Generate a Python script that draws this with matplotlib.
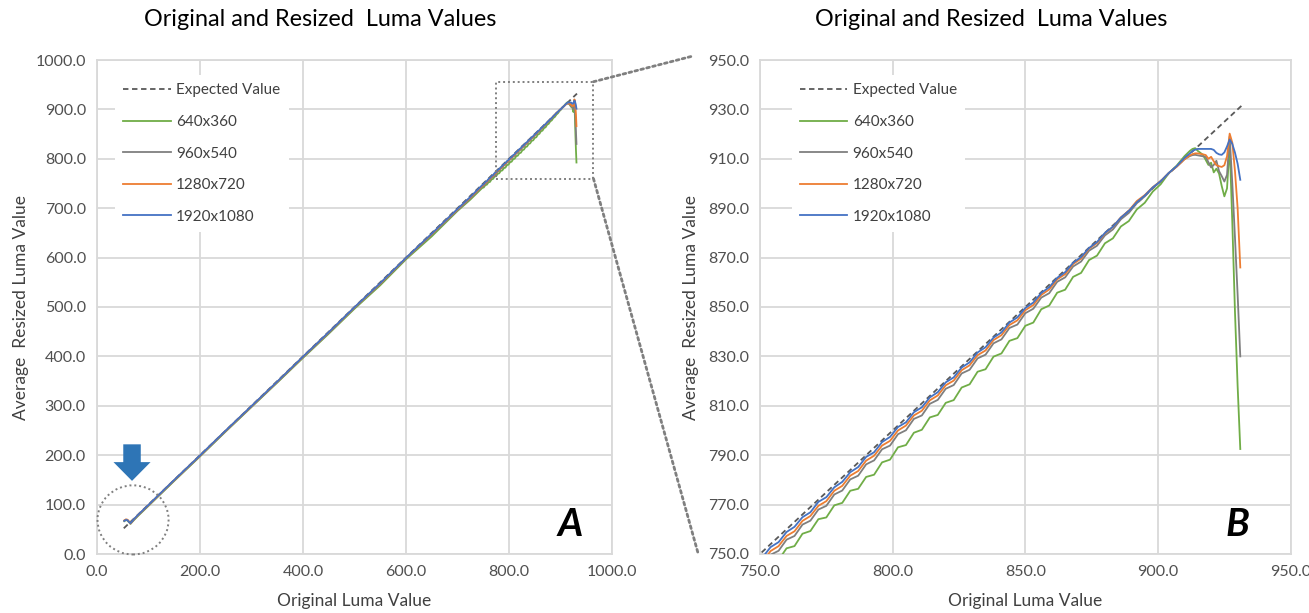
import matplotlib
matplotlib.use("Agg")
import matplotlib.pyplot as plt
import matplotlib.patches as mpatches
from matplotlib.patches import ConnectionPatch
from matplotlib.ticker import FormatStrFormatter

plt.rcParams['font.family'] = ['Lato', 'DejaVu Sans']

# Original luma values (shared x for all resized series)
luma_x = [53, 56, 59, 62, 65, 68, 72, 80, 100, 150, 200, 250, 300, 350, 400, 450, 500, 550, 600, 650, 700, 725,
          748, 751, 754, 757, 760, 763, 766, 769, 772, 775, 778, 781, 784, 787, 790, 793, 796, 799,
          802, 805, 808, 811, 814, 817, 820, 823, 826, 829, 832, 835, 838, 841, 844, 847, 850,
          853, 856, 859, 862, 865, 868, 871, 874, 877, 880, 883, 886, 889, 892, 895, 898, 901, 904, 907, 910,
          912, 913, 914, 915, 916, 917, 918, 919, 920, 921, 922, 923, 924, 925, 926, 927, 928, 929, 930, 931]

res_640 = [66.5, 68.5, 68.0, 64.5, 61.0, 64.5, 69.0, 77.5, 97.5, 148.0, 197.5, 248.0, 297.5, 347.0, 397.0, 446.0,
           496.5, 544.0, 596.5, 643.0, 694.5, 717.5,
           741.0, 742.0, 746.8, 747.6, 752.3, 753.2, 758.2, 759.3, 764.1, 764.8, 769.7, 770.7, 775.6, 776.4,
           781.2, 782.1, 787.1, 788.2, 793.2, 794.1, 799.1, 800.3, 805.3, 806.3, 811.2, 812.3, 817.4, 818.7,
           823.8, 824.8, 829.9, 831.2, 836.3, 837.4, 842.4, 843.7, 849.1, 850.6, 855.8, 857.0, 862.2, 863.8,
           869.0, 870.8, 875.8, 877.8, 882.6, 884.8, 889.5, 892.2, 896.7, 899.7, 904.1, 907.2, 911.1,
           913.2, 914.0, 914.3, 913.2, 912.4, 911.5, 909.5, 907.5, 908.4, 904.5, 906.0, 904.0, 899.0, 894.8,
           898.0, 915.5, 884.0, 848.0, 818.0, 792.5]

res_960 = [67.5, 69.5, 69.0, 65.5, 61.5, 65.0, 70.0, 78.5, 98.5, 149.0, 198.5, 249.0, 298.5, 348.0, 398.5, 447.5,
           498.5, 546.5, 598.5, 646.5, 696.0, 720.0,
           743.6, 745.0, 749.7, 751.3, 755.8, 757.3, 761.9, 763.5, 768.0, 769.5, 774.1, 775.7, 780.2, 781.7,
           786.3, 787.9, 792.4, 793.9, 798.5, 800.1, 804.7, 806.1, 810.8, 812.4, 816.9, 818.4, 823.1, 824.6,
           829.2, 830.7, 835.3, 836.9, 841.5, 842.9, 847.5, 849.3, 853.8, 855.6, 860.2, 862.0, 866.4, 868.4,
           872.8, 874.8, 879.0, 881.4, 885.5, 888.1, 892.0, 894.8, 898.2, 900.8, 904.2, 906.8, 909.9,
           911.1, 911.5, 911.6, 911.4, 911.2, 911.0, 910.7, 908.6, 906.5, 907.5, 909.2, 905.0, 903.0, 900.8,
           903.5, 919.0, 900.0, 878.0, 855.0, 830.0]

res_1280 = [68.0, 70.0, 69.5, 66.0, 62.0, 65.5, 70.5, 79.0, 99.0, 149.5, 199.0, 249.5, 299.0, 348.5, 399.0, 448.5,
            499.0, 547.5, 599.0, 647.5, 697.5, 721.5,
            745.1, 747.0, 751.2, 753.2, 757.3, 759.2, 763.4, 765.4, 769.5, 771.4, 775.6, 777.6, 781.7, 783.6,
            787.8, 789.8, 793.9, 795.8, 800.0, 802.0, 806.1, 808.0, 812.2, 814.2, 818.3, 820.2, 824.4, 826.4,
            830.5, 832.4, 836.6, 838.6, 842.7, 844.6, 848.7, 850.8, 854.9, 857.1, 861.2, 863.3, 867.4, 869.6,
            873.6, 875.9, 879.8, 882.4, 886.3, 889.0, 892.9, 895.3, 898.5, 901.0, 904.2, 906.8, 909.8,
            911.4, 911.9, 912.2, 912.2, 912.0, 911.8, 911.5, 910.0, 910.8, 909.0, 907.4, 907.0, 906.7, 907.4,
            911.0, 920.2, 916.5, 905.0, 890.0, 866.0]

res_1920 = [67.0, 69.0, 68.5, 65.0, 62.5, 66.0, 71.0, 79.5, 99.5, 150.0, 199.5, 250.0, 299.5, 349.0, 399.5, 449.0,
            499.5, 548.5, 599.5, 648.5, 698.5, 723.0,
            746.7, 748.7, 752.8, 754.8, 758.9, 761.0, 764.9, 766.9, 771.1, 773.0, 777.0, 779.2, 783.1, 785.2,
            789.3, 791.2, 795.3, 797.4, 801.4, 803.3, 807.4, 809.4, 813.4, 815.5, 819.5, 821.5, 825.5, 827.6,
            831.6, 833.7, 837.6, 839.7, 843.7, 845.8, 849.6, 851.8, 855.7, 858.0, 861.8, 864.1, 867.9, 870.2,
            873.9, 876.3, 880.0, 882.5, 886.2, 888.9, 892.4, 895.1, 898.4, 900.9, 904.2, 907.0, 910.4,
            912.2, 913.2, 913.7, 914.0, 914.0, 914.0, 914.0, 914.0, 914.0, 913.6, 912.4, 911.8, 911.6, 912.6,
            915.0, 917.8, 916.0, 912.5, 908.0, 901.5]

expected_x = [52, 932]
expected_y = [52, 932]

series = [
    ('640x360', res_640, '#70AD47'),
    ('960x540', res_960, '#7F7F7F'),
    ('1280x720', res_1280, '#ED7D31'),
    ('1920x1080', res_1920, '#4472C4'),
]

GRID = '#D9D9D9'
TICK = '#505050'
W, H = 1309, 613

fig = plt.figure(figsize=(W / 100, H / 100), dpi=100)
axA = fig.add_axes([97 / W, 1 - 554 / H, 515 / W, 494 / H])
axB = fig.add_axes([760 / W, 1 - 554 / H, 530.7 / W, 494 / H])


def draw_panel(ax, xlim, ylim, xticks, yticks, leg_x):
    ax.plot(expected_x, expected_y, color='#595959', lw=1.3, ls=(0, (3, 2)), label='Expected Value', zorder=3)
    for name, vals, col in series:
        ax.plot(luma_x, vals, color=col, lw=1.3, label=name, zorder=3)
    ax.set_xlim(*xlim)
    ax.set_ylim(*ylim)
    ax.set_xticks(xticks)
    ax.set_yticks(yticks)
    ax.xaxis.set_major_formatter(FormatStrFormatter('%.1f'))
    ax.yaxis.set_major_formatter(FormatStrFormatter('%.1f'))
    ax.grid(True, color=GRID, lw=1.3, zorder=0)
    ax.set_axisbelow(True)
    for s in ax.spines.values():
        s.set_color(GRID)
        s.set_linewidth(1.3)
    ax.tick_params(length=0, labelsize=11.5, labelcolor=TICK, pad=8)
    ax.set_xlabel('Original Luma Value', fontsize=12.5, color='#404040')
    ax.set_ylabel('Average  Resized Luma Value', fontsize=12.5, color='#404040')
    leg = ax.legend(loc='upper left', bbox_to_anchor=(leg_x, 0.985), frameon=True, fancybox=False,
                    framealpha=1, edgecolor='none', fontsize=11, handlelength=3.1,
                    handletextpad=0.35, labelspacing=1.15, borderpad=0.55)
    for t in leg.get_texts():
        t.set_color('#404040')
    leg.set_zorder(5)


draw_panel(axA, (0, 1000), (0, 1000), range(0, 1001, 200), range(0, 1001, 100), 0.02)
draw_panel(axB, (750, 950), (750, 950), range(750, 951, 50), range(750, 951, 20), 0.045)

axA.xaxis.set_label_coords(0.5, -0.078)
axB.xaxis.set_label_coords(0.5, -0.078)
axA.yaxis.set_label_coords(-0.133, 0.5)
axB.yaxis.set_label_coords(-0.115, 0.5)

fig.text(320 / W, 1 - 20 / H, 'Original and Resized  Luma Values', ha='center', va='center', fontsize=16.8)
fig.text(991 / W, 1 - 20 / H, 'Original and Resized  Luma Values', ha='center', va='center', fontsize=16.8)

axA.text(0.918, 0.06, 'A', transform=axA.transAxes, ha='center', va='center',
         fontsize=28, fontweight='bold', fontstyle='italic')
axB.text(0.899, 0.06, 'B', transform=axB.transAxes, ha='center', va='center',
         fontsize=28, fontweight='bold', fontstyle='italic')

# highlight of the low end of the curve
dot = dict(color='#7F7F7F', lw=1.4, ls=(0, (1, 1.5)))
axA.add_patch(mpatches.Ellipse((70, 69), 138, 140, fill=False, clip_on=False, zorder=4, **dot))
axA.add_patch(mpatches.FancyArrow(68, 222, 0, -74, width=34, head_width=72, head_length=38,
                                  length_includes_head=True, color='#2E75B6', lw=0, zorder=4))

# zoomed window and connectors to panel B
axA.add_patch(mpatches.Rectangle((775, 760), 189, 196, fill=False, clip_on=False, zorder=4, **dot))
conn = dict(color='#7F7F7F', lw=2.0, ls=(0, (1, 1.2)))
fig.add_artist(ConnectionPatch((964, 956), (693 / W, 1 - 56 / H), coordsA=axA.transData,
                               coordsB=fig.transFigure, **conn))
fig.add_artist(ConnectionPatch((964, 760), (698 / W, 1 - 553 / H), coordsA=axA.transData,
                               coordsB=fig.transFigure, **conn))

fig.savefig('out.png', dpi=100)
